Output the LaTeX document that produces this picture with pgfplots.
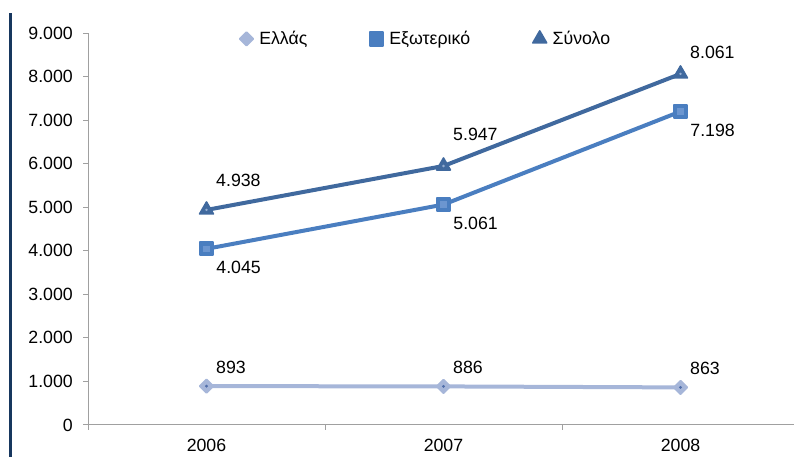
\documentclass[border=0pt]{standalone}
\usepackage{pgfplots}
\usepackage{pgfplotstable}
\pgfplotsset{compat=1.18}
\usepackage{fontspec}
\setmainfont{Liberation Sans}

\definecolor{ellas}{RGB}{166,182,217}
\definecolor{exot}{RGB}{74,126,192}
\definecolor{synolo}{RGB}{64,105,158}
\definecolor{frameblue}{RGB}{23,55,94}
\definecolor{axgray}{RGB}{160,160,160}
\definecolor{ellasdot}{RGB}{80,110,170}
\definecolor{exotin}{RGB}{108,150,208}
\definecolor{synolodot}{RGB}{150,175,210}

% years at 0,1,2; dy = label offset (bp) for the totals
\pgfplotstableread{
x y
0 893
1 886
2 863
}\ellastab
\pgfplotstableread{
x y
0 4045
1 5061
2 7198
}\exottab
\pgfplotstableread{
x y dy
0 4938 22.5
1 5947 24
2 8061 16.5
}\synolotab

\begin{document}
\fontsize{13.3bp}{16bp}\selectfont
\begin{tikzpicture}
\path[use as bounding box] (0,0) rectangle (595.5bp,342.75bp);
\draw[frameblue, line width=2.25bp] (7.9bp,0) -- (7.9bp,333bp);
\begin{axis}[
  at={(66bp,24bp)}, anchor=south west,
  scale only axis,
  width=533.25bp, height=294bp,
  xmin=-0.5, xmax=2.5, ymin=0, ymax=9000,
  axis lines*=left,
  axis line style={axgray, line width=0.75bp},
  tick align=outside,
  major tick length=3.75bp,
  tick style={axgray, line width=0.75bp},
  xtick={-0.5,0.5,1.5,2.5},
  x tick label as interval,
  xticklabels={2006,2007,2008},
  ytick={0,1000,...,9000},
  scaled y ticks=false,
  yticklabel style={xshift=-3bp},
  xticklabel style={yshift=-2.5bp},
  /pgf/number format/1000 sep={.},
  /pgf/number format/assume math mode=true,
  clip=false,
  legend columns=3,
  legend style={at={(0.213,0.985)}, anchor=west, draw=none, fill=none,
    inner sep=0pt,
    /tikz/every odd column/.append style={column sep=2.5bp},
    /tikz/every even column/.append style={column sep=45bp}},
  legend cell align=left,
  legend image code/.code={\path[#1] plot coordinates {(0.12cm,0cm)};},
]
\addplot[ellas, line width=3bp, line join=round,
  mark=square*, mark size=3.6bp,
  mark options={rotate=45, fill=ellas, draw=ellas, line width=1.2bp, line join=round},
  nodes near coords,
  every node near coord/.append style={anchor=west, xshift=2.25bp, yshift=14.25bp, text=black}]
  table[x=x,y=y] {\ellastab};
\addlegendentry{Ελλάς}
\addplot[exot, line width=3bp, line join=round,
  mark=square*, mark size=5bp,
  mark options={fill=exot, draw=exot, line width=1.5bp, line join=round},
  nodes near coords,
  every node near coord/.append style={anchor=west, xshift=2.25bp, yshift=-14.25bp, text=black}]
  table[x=x,y=y] {\exottab};
\addlegendentry{Εξωτερικό}
\addplot[synolo, line width=3bp, line join=round,
  mark=triangle*, mark size=6bp,
  mark options={fill=synolo, draw=synolo, line width=1.2bp, line join=round},
  visualization depends on={\thisrow{dy}\as\dy},
  nodes near coords,
  every node near coord/.append style={anchor=west, xshift=2.25bp, yshift=\dy*1bp, text=black}]
  table[x=x,y=y] {\synolotab};
\addlegendentry{Σύνολο}
% centre dots of the markers
\addplot[forget plot, only marks, mark=*, mark size=0.9bp, color=ellasdot,
  mark options={draw=ellasdot, fill=ellasdot}]
  table[x=x,y=y] {\ellastab};
\addplot[forget plot, only marks, mark=square*, mark size=2.2bp, color=exotin,
  mark options={draw=exotin, fill=exotin}]
  table[x=x,y=y] {\exottab};
\addplot[forget plot, only marks, mark=*, mark size=0.7bp, color=synolodot,
  mark options={draw=synolodot, fill=synolodot}]
  table[x=x,y=y] {\synolotab};
\end{axis}
\end{tikzpicture}
\end{document}
